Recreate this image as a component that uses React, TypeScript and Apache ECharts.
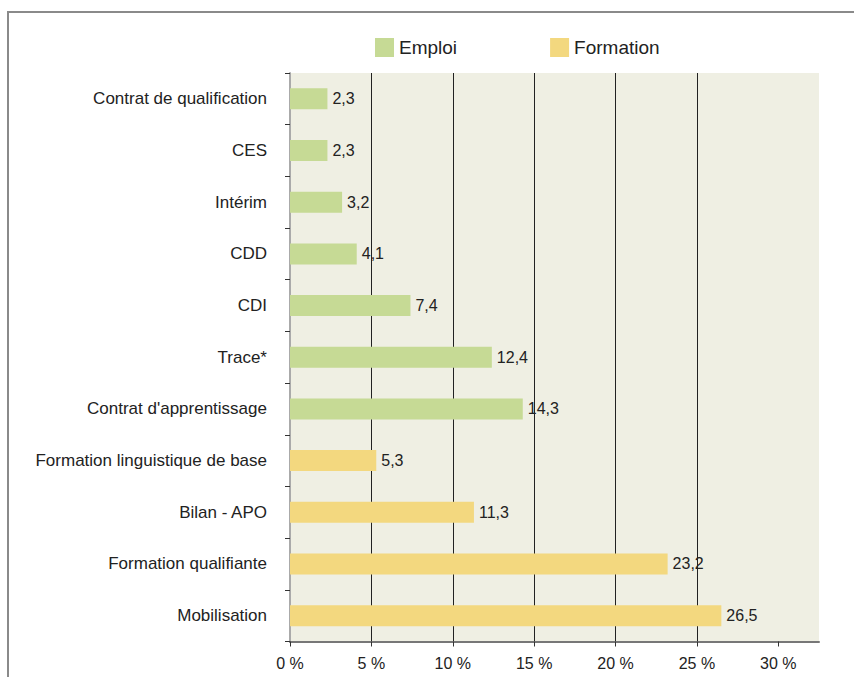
import React, { useEffect, useRef } from "react";
import * as echarts from "echarts";

const categories = [
  "Contrat de qualification",
  "CES",
  "Intérim",
  "CDD",
  "CDI",
  "Trace*",
  "Contrat d'apprentissage",
  "Formation linguistique de base",
  "Bilan - APO",
  "Formation qualifiante",
  "Mobilisation",
];

const emploiValues: (number | string)[] = [2.3, 2.3, 3.2, 4.1, 7.4, 12.4, 14.3, "-", "-", "-", "-"];
const formationValues: (number | string)[] = ["-", "-", "-", "-", "-", "-", "-", 5.3, 11.3, 23.2, 26.5];

const xTickValues = [0, 5, 10, 15, 20, 25, 30];

const FONT = "'Liberation Sans', Arial, Helvetica, sans-serif";

export default function App() {
  const ref = useRef<HTMLDivElement>(null);

  useEffect(() => {
    if (!ref.current) return;
    const chart = echarts.init(ref.current, null, { renderer: "svg" });
    const labelCfg = {
      show: true,
      position: "right" as const,
      distance: 5,
      color: "#222",
      fontSize: 16,
      fontFamily: FONT,
      formatter: (p: any) => String(p.value).replace(".", ","),
    };
    chart.setOption({
      animation: false,
      backgroundColor: "#ffffff",
      textStyle: { fontFamily: FONT },
      graphic: [
        {
          type: "rect",
          shape: { x: 8, y: 12, width: 900, height: 720 },
          style: { fill: "none", stroke: "#8a8a8a", lineWidth: 2 },
          silent: true,
          z: -10,
        },
      ],
      legend: {
        left: 370,
        top: 33,
        itemWidth: 19,
        itemHeight: 19,
        itemGap: 93,
        icon: "rect",
        textStyle: { fontSize: 19, color: "#222", fontFamily: FONT },
        data: ["Emploi", "Formation"],
      },
      grid: {
        left: 290,
        right: 35,
        top: 73,
        bottom: 35.5,
        show: true,
        backgroundColor: "#EFEFE3",
        borderWidth: 0,
        containLabel: false,
      },
      xAxis: {
        type: "value",
        min: 0,
        max: 32.5,
        interval: 5,
        axisLine: { show: true, lineStyle: { color: "#777", width: 2 } },
        axisTick: {
          show: true,
          length: 5,
          customValues: xTickValues,
          lineStyle: { color: "#333", width: 1 },
        },
        axisLabel: {
          customValues: xTickValues,
          formatter: "{value} %",
          fontSize: 16,
          color: "#222",
          margin: 14,
          fontFamily: FONT,
        },
        splitLine: {
          show: true,
          showMinLine: false,
          showMaxLine: false,
          lineStyle: { color: "#222", width: 1 },
        },
      },
      yAxis: {
        type: "category",
        data: categories,
        inverse: true,
        axisLine: { show: true, lineStyle: { color: "#aaa", width: 2 } },
        axisTick: { show: true, length: 5, lineStyle: { color: "#333", width: 1 } },
        axisLabel: { fontSize: 17, color: "#222", margin: 23, fontFamily: FONT },
        splitLine: { show: false },
      },
      series: [
        {
          name: "Emploi",
          type: "bar",
          stack: "total",
          data: emploiValues,
          barWidth: 21,
          itemStyle: { color: "#C6DA95" },
          label: labelCfg,
        },
        {
          name: "Formation",
          type: "bar",
          stack: "total",
          data: formationValues,
          barWidth: 21,
          itemStyle: { color: "#F3D87F" },
          label: labelCfg,
        },
      ],
    });
    return () => chart.dispose();
  }, []);

  return (
    <div
      ref={ref}
      style={{ position: "absolute", left: 0, top: 0, width: 854, height: 677 }}
    />
  );
}
